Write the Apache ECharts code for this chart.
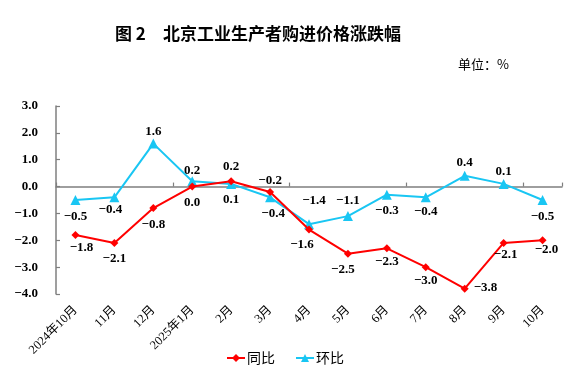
<!DOCTYPE html>
<html><head><meta charset="utf-8">
<script src="https://cdn.jsdelivr.net/npm/echarts@6/dist/echarts.min.js"></script>
<style>html,body{margin:0;padding:0;background:#fff}#c{width:588px;height:366px}</style>
</head><body><div id="c"></div>
<script>
const categories = ['2024年10月','11月','12月','2025年1月','2月','3月','4月','5月','6月','7月','8月','9月','10月'];
const yoy = [-1.8,-2.1,-0.8,0.0,0.2,-0.2,-1.6,-2.5,-2.3,-3.0,-3.8,-2.1,-2.0];
const mom = [-0.5,-0.4,1.6,0.2,0.1,-0.4,-1.4,-1.1,-0.3,-0.4,0.4,0.1,-0.5];
const yTicks = [-4,3,1];

// label placement (style only)
const yoyPos = ['bottom','bottom','bottom','bottom','top','top','bottom','bottom','bottom','bottom','right','bottom','bottom'];
const yoyOff = [[6,-3],[0,0],[0,1],[0,1],[0,1],[0,4],[-7,0],[-5,0],[0,-2],[0,-2],[0,-1],[2,-4],[4,-6]];
const momPos = ['bottom','bottom','top','top','bottom','bottom','top','top','bottom','bottom','top','top','bottom'];
const momOff = [[0,0],[-4,-4],[0,5],[0,6],[0,-1],[3,0],[5,-7],[0,1],[0,0],[0,-2],[0,3],[0,4],[0,0]];

const numFont = '"Liberation Serif","DejaVu Serif",serif';
const cjk = '"Noto Sans CJK SC","Noto Sans",sans-serif';
const fmt = v => { const s = Math.abs(v).toFixed(1); return (v < 0 ? '\u2212' : '') + s; };

function mk(vals, pos, off) {
  return vals.map((v, i) => ({
    value: v,
    label: { position: pos[i], offset: off[i] }
  }));
}

const chart = echarts.init(document.getElementById('c'), null, {renderer: 'canvas'});
chart.setOption({
  animation: false,
  backgroundColor: '#fff',
  title: [
    { text: '图 2\u3000北京工业生产者购进价格涨跌幅', left: 110, top: 20,
      textStyle: { fontFamily: cjk, fontWeight: 'bold', fontSize: 17, color: '#000' } },
    { text: '单位：%', right: 74, top: 53,
      textStyle: { fontFamily: cjk, fontWeight: 'normal', fontSize: 13, color: '#000' } }
  ],
  legend: {
    left: 221, top: 346, itemGap: 20, itemWidth: 18, itemHeight: 10,
    textStyle: { fontFamily: cjk, fontSize: 14, color: '#000', padding: [0,0,0,-3] },
    data: ['同比', '环比']
  },
  grid: { left: 56, right: 26, top: 106, bottom: 72, containLabel: false },
  xAxis: [
    { type: 'category', data: categories, boundaryGap: true,
      axisLine: { onZero: true, lineStyle: { color: '#7f7f7f', width: 1.5 } },
      axisTick: { show: true, inside: true, length: 4, lineStyle: { color: '#7f7f7f', width: 1.2 } },
      axisLabel: { show: false }, splitLine: { show: false } },
    { type: 'category', data: categories, boundaryGap: true, position: 'bottom',
      axisLine: { show: false, onZero: false }, axisTick: { show: false },
      axisLabel: { show: true, rotate: 45, margin: 14, interval: 0,
        fontFamily: '"Liberation Serif","Noto Sans CJK SC",serif', fontSize: 12.5, color: '#000' },
      splitLine: { show: false } }
  ],
  yAxis: {
    type: 'value', min: yTicks[0], max: yTicks[1], interval: yTicks[2],
    axisLine: { show: true, lineStyle: { color: '#7f7f7f', width: 1.5 } },
    axisTick: { show: true, inside: true, length: 4, lineStyle: { color: '#7f7f7f', width: 1.2 } },
    axisLabel: { margin: 18, formatter: fmt, fontFamily: numFont, fontWeight: 'bold', fontSize: 13, color: '#000' },
    splitLine: { show: false }
  },
  series: [
    { name: '同比', type: 'line', xAxisIndex: 0, data: mk(yoy, yoyPos, yoyOff), z: 4,
      symbol: 'diamond', symbolSize: 8, color: '#ff0000',
      lineStyle: { color: '#ff0000', width: 2 }, itemStyle: { color: '#ff0000' },
      label: { show: true, distance: 5, formatter: p => fmt(p.value),
        fontFamily: numFont, fontWeight: 'bold', fontSize: 13, color: '#000' } },
    { name: '环比', type: 'line', xAxisIndex: 0, data: mk(mom, momPos, momOff), z: 3,
      symbol: 'triangle', symbolSize: 10, color: '#19c6f3',
      lineStyle: { color: '#19c6f3', width: 2 }, itemStyle: { color: '#19c6f3' },
      label: { show: true, distance: 5, formatter: p => fmt(p.value),
        fontFamily: numFont, fontWeight: 'bold', fontSize: 13, color: '#000' } }
  ]
});
</script></body></html>
